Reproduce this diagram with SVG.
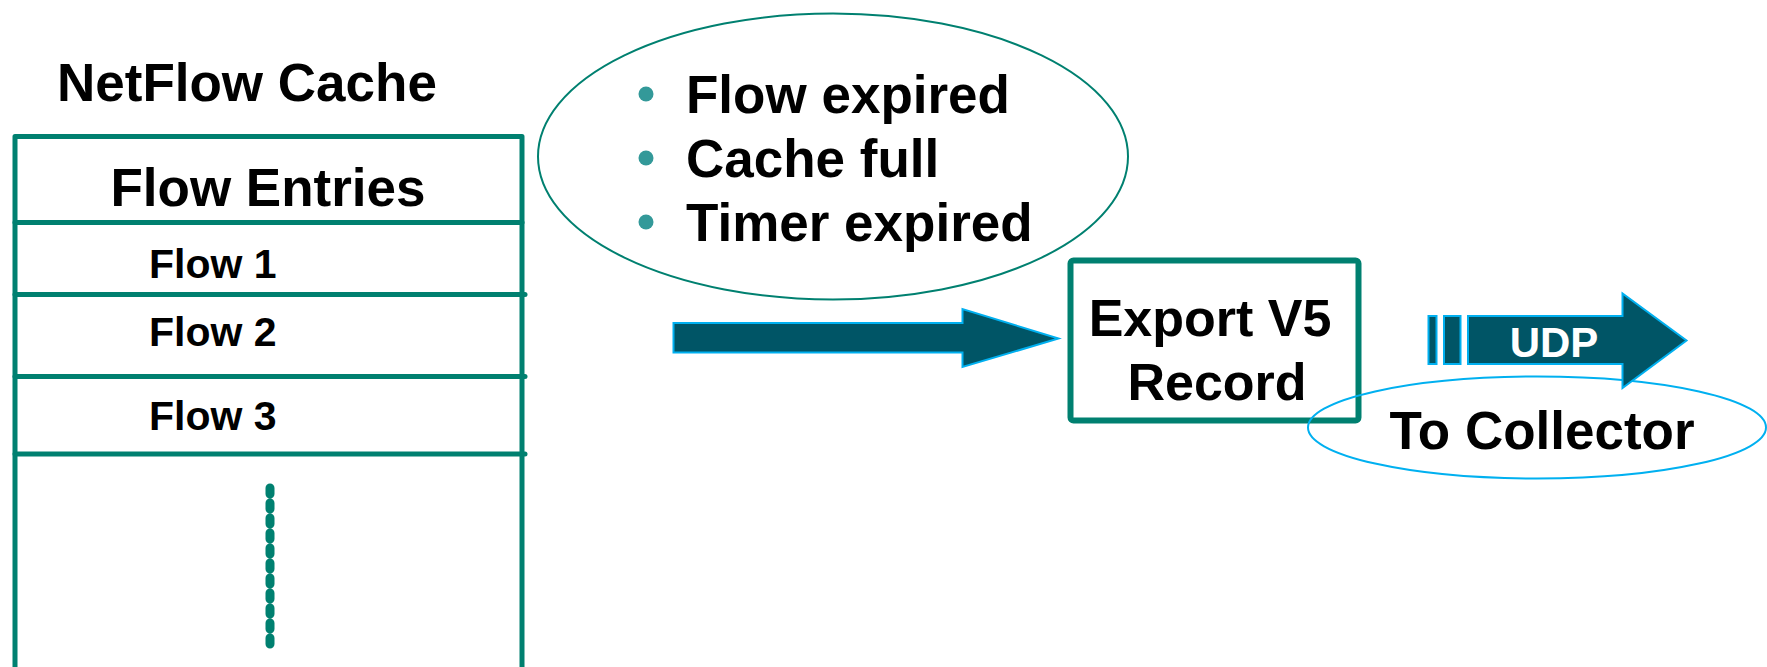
<svg xmlns="http://www.w3.org/2000/svg" width="1767" height="667" viewBox="0 0 1767 667">
<style>
  text { font-family: "Liberation Sans", Arial, sans-serif; font-weight: bold; fill: #000; }
  .teal { fill: none; stroke: #008070; stroke-linejoin: round; stroke-linecap: round; }
  .arrow { fill: #005566; stroke: #00b0f0; stroke-width: 2; stroke-linejoin: miter; }
  .bullet { fill: #339999; }
</style>
<rect x="0" y="0" width="1767" height="667" fill="#ffffff"/>

<g id="netflow-cache">
  <text x="57" y="101" font-size="53">NetFlow Cache</text>
  <path class="teal" stroke-width="5" d="M15,680 V136.5 H522 V680"/>
  <line class="teal" stroke-width="5" x1="15" y1="222.5" x2="522" y2="222.5"/>
  <line class="teal" stroke-width="5" x1="15" y1="294.5" x2="525" y2="294.5"/>
  <line class="teal" stroke-width="5" x1="15" y1="376.5" x2="525" y2="376.5"/>
  <line class="teal" stroke-width="5" x1="15" y1="454" x2="525" y2="454"/>
  <text x="268" y="206" font-size="53" text-anchor="middle">Flow Entries</text>
  <text x="149" y="278" font-size="41">Flow 1</text>
  <text x="149" y="346" font-size="41">Flow 2</text>
  <text x="149" y="430" font-size="41">Flow 3</text>
  <line class="teal" stroke-width="9" stroke-dasharray="6 9" x1="270" y1="488" x2="270" y2="651"/>
</g>

<g id="expiry-conditions">
  <ellipse class="teal" stroke-width="2" cx="833" cy="156.5" rx="295" ry="143"/>
  <circle class="bullet" cx="646" cy="94" r="7.5"/>
  <circle class="bullet" cx="646" cy="158" r="7.5"/>
  <circle class="bullet" cx="646" cy="222" r="7.5"/>
  <text x="686" y="113" font-size="53">Flow expired</text>
  <text x="686" y="177" font-size="53">Cache full</text>
  <text x="686" y="241" font-size="53">Timer expired</text>
</g>

<g id="export-record">
  <rect class="teal" stroke-width="6" x="1070.5" y="260.5" width="288" height="160" rx="3"/>
  <text x="1210" y="336" font-size="52" text-anchor="middle">Export V5</text>
  <text x="1217" y="400" font-size="52" text-anchor="middle">Record</text>
</g>

<g id="to-collector">
  <ellipse fill="none" stroke="#00b0f0" stroke-width="2" cx="1537" cy="427.5" rx="229" ry="51"/>
  <text x="1542" y="449" font-size="53" text-anchor="middle">To Collector</text>
</g>

<g id="connectors">
  <polygon class="arrow" points="673.5,323 962.5,323 962.5,309 1058.5,338.5 962.5,367 962.5,352.5 673.5,352.5"/>
  <g id="udp-arrow">
    <rect class="arrow" x="1428.5" y="316" width="8" height="48"/>
    <rect class="arrow" x="1444" y="316" width="16.5" height="48"/>
    <polygon class="arrow" points="1468,316 1622.5,316 1622.5,293.5 1686.5,340.5 1622.5,388 1622.5,364 1468,364"/>
    <text x="1554" y="357" font-size="42" text-anchor="middle" style="fill:#ffffff">UDP</text>
  </g>
</g>
</svg>
